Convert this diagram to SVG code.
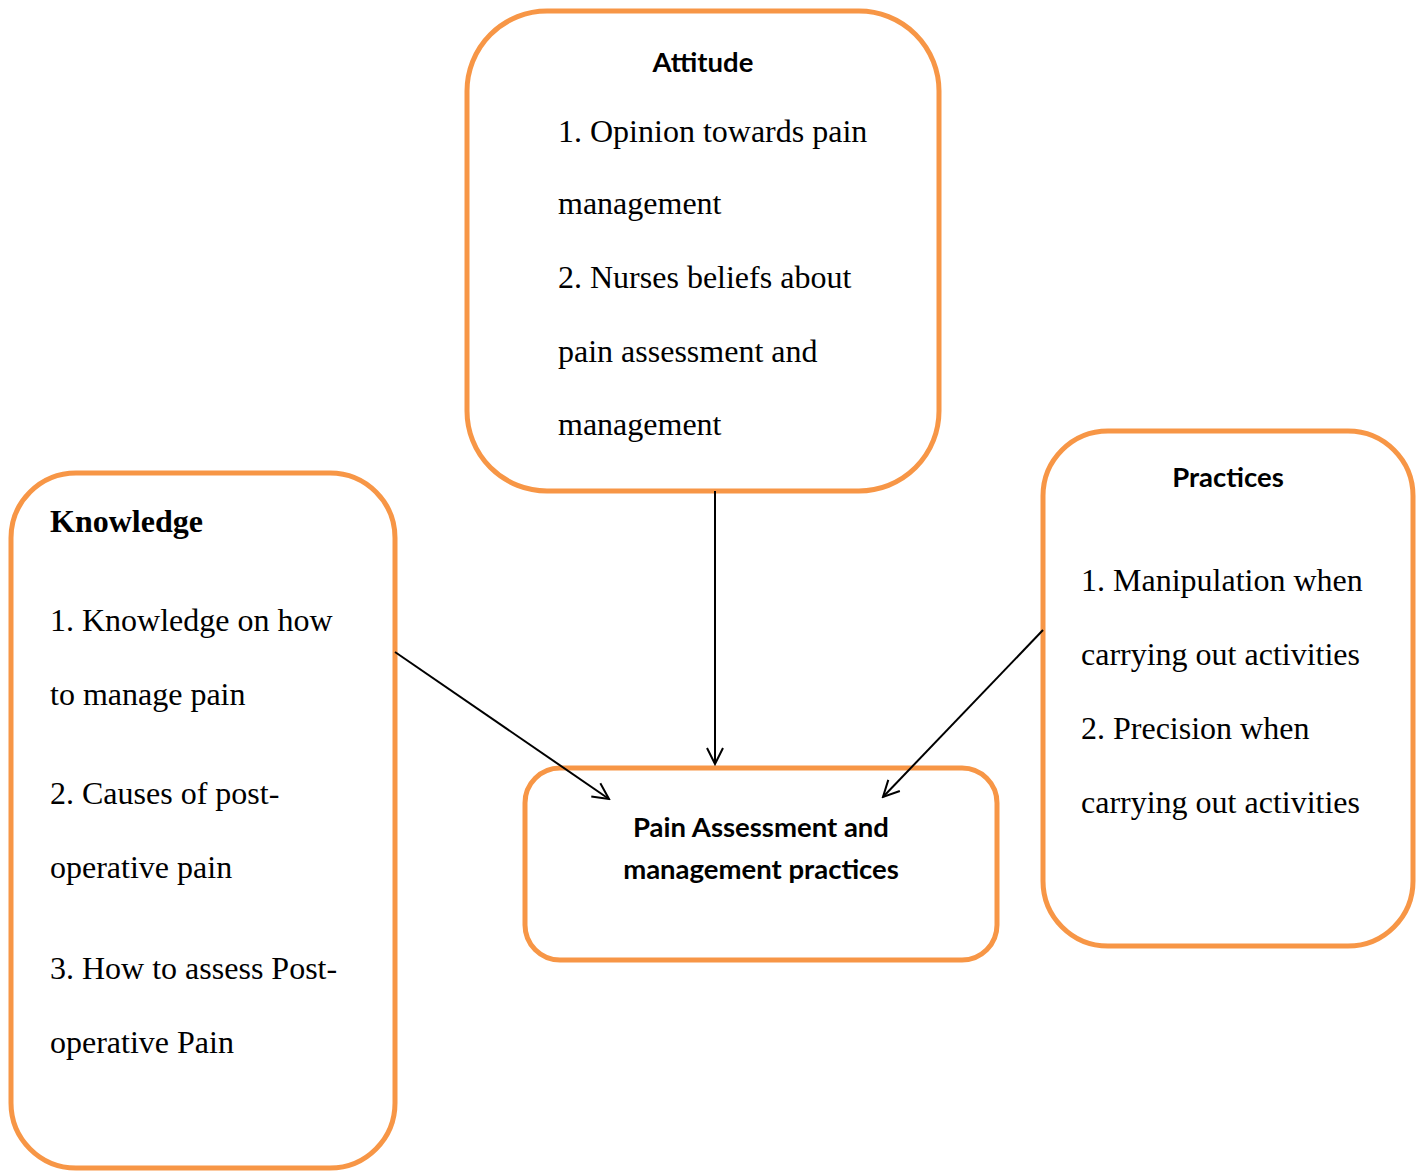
<svg xmlns="http://www.w3.org/2000/svg" width="1423" height="1171" viewBox="0 0 1423 1171">
<style>
.box{fill:#fff;stroke:#F79646;stroke-width:5}
.h{font-family:Lato,"Open Sans",sans-serif;font-weight:bold;font-size:27.5px;fill:#000}
.t{font-family:"Liberation Serif",serif;font-size:32px;fill:#000}
.kb{font-family:"Liberation Serif",serif;font-size:32px;font-weight:bold;fill:#000}
.c{stroke:#000;stroke-width:2;fill:none}
</style>
<defs>
<marker id="arr" viewBox="0 0 20 20" refX="18" refY="10" markerWidth="20" markerHeight="20" markerUnits="userSpaceOnUse" orient="auto">
<path d="M2,2 L18,10 L2,18" fill="none" stroke="#000" stroke-width="2"/>
</marker>
</defs>
<g id="attitude">
<rect class="box" x="467" y="11" width="472" height="480" rx="80" ry="80"/>
<text class="h" x="703" y="72" text-anchor="middle">Attitude</text>
<text class="t" x="558" y="142">1. Opinion towards pain</text>
<text class="t" x="558" y="214">management</text>
<text class="t" x="558" y="288">2. Nurses beliefs about</text>
<text class="t" x="558" y="362">pain assessment and</text>
<text class="t" x="558" y="435">management</text>
</g>
<g id="knowledge">
<rect class="box" x="11" y="473" width="384" height="695" rx="65" ry="65"/>
<text class="kb" x="50" y="532">Knowledge</text>
<text class="t" x="50" y="631">1. Knowledge on how</text>
<text class="t" x="50" y="705">to manage pain</text>
<text class="t" x="50" y="804">2. Causes of post-</text>
<text class="t" x="50" y="878">operative pain</text>
<text class="t" x="50" y="979">3. How to assess Post-</text>
<text class="t" x="50" y="1053">operative Pain</text>
</g>
<g id="practices">
<rect class="box" x="1043" y="431" width="370" height="515" rx="65" ry="65"/>
<text class="h" x="1228" y="487" text-anchor="middle">Practices</text>
<text class="t" x="1081" y="591">1. Manipulation when</text>
<text class="t" x="1081" y="665">carrying out activities</text>
<text class="t" x="1081" y="739">2. Precision when</text>
<text class="t" x="1081" y="813">carrying out activities</text>
</g>
<g id="pain-assessment">
<rect class="box" x="525" y="768" width="472" height="192" rx="35" ry="35"/>
<text class="h" x="761" y="837" text-anchor="middle">Pain Assessment and</text>
<text class="h" x="761" y="879" text-anchor="middle">management practices</text>
</g>
<g id="connectors">
<line class="c" x1="715" y1="491" x2="715" y2="764" marker-end="url(#arr)"/>
<line class="c" x1="395" y1="652" x2="609" y2="799" marker-end="url(#arr)"/>
<line class="c" x1="1043" y1="630" x2="883" y2="797" marker-end="url(#arr)"/>
</g>
</svg>
